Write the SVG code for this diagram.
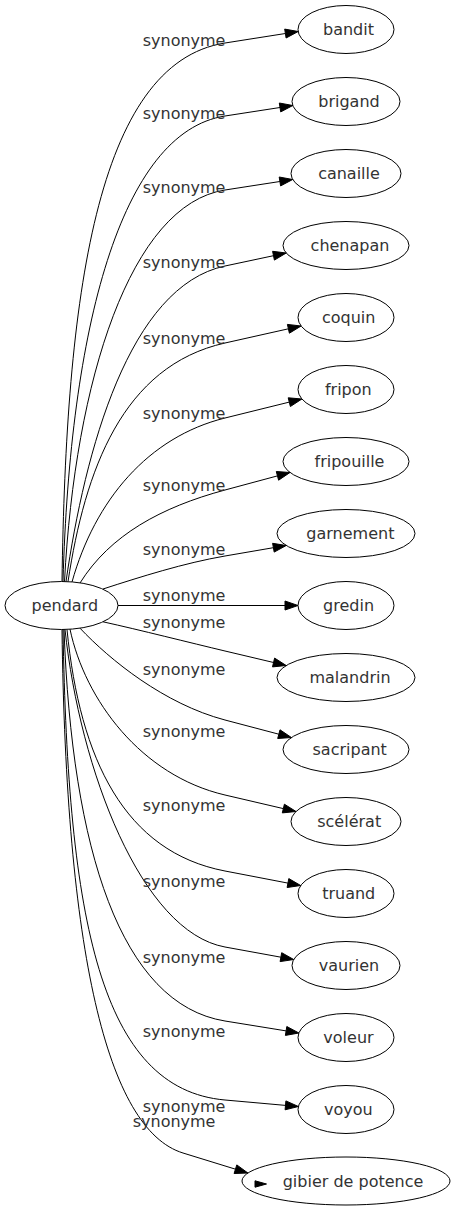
<svg xmlns="http://www.w3.org/2000/svg" width="455" height="1211" viewBox="0 0 455 1211">
<style>
.node ellipse{fill:none;stroke:#000;stroke-width:1}
.node text{font-family:"DejaVu Sans",sans-serif;font-size:16px;fill:#333;text-anchor:middle}
.edge path{fill:none;stroke:#000;stroke-width:1}
.edge polygon{fill:#000;stroke:#000;stroke-width:1}
.edge text{font-family:"DejaVu Sans",sans-serif;font-size:16px;fill:#333}
</style>
<rect width="455" height="1211" fill="#fff"/>
<g id="connectors">
<g class="edge" id="e-bandit"><path d="M62,581.5 C66,300 95.6,63.3 225,43 L285.4,33.5"/><polygon points="298.2,31.5 286.1,38 284.7,29.1"/><text x="142.7" y="46">synonyme</text></g>
<g class="edge" id="e-brigand"><path d="M63,581.5 C70,330 120.3,132.2 225,116 L280,107.5"/><polygon points="292.8,105.5 280.7,111.9 279.3,103"/><text x="142.7" y="119">synonyme</text></g>
<g class="edge" id="e-canaille"><path d="M64.5,581.5 C75,380 130.6,204.6 225,190 L279.9,181.5"/><polygon points="292.7,179.5 280.6,185.9 279.2,177"/><text x="142.7" y="193">synonyme</text></g>
<g class="edge" id="e-chenapan"><path d="M66,581.6 C85,450 129.2,286.4 225,266 L273.5,255.7"/><polygon points="286.2,253 274.4,260.1 272.6,251.3"/><text x="142.7" y="268">synonyme</text></g>
<g class="edge" id="e-coquin"><path d="M68,581.7 C85,470 122.5,365.9 225,343 L288.4,328.8"/><polygon points="301.1,326 289.4,333.2 287.4,324.4"/><text x="142.7" y="344">synonyme</text></g>
<g class="edge" id="e-fripon"><path d="M72,582 C95,500 148.3,437 225,418 L289.3,402.1"/><polygon points="301.9,399 290.4,406.5 288.2,397.8"/><text x="142.7" y="419">synonyme</text></g>
<g class="edge" id="e-fripouille"><path d="M80,583 C110,535 161.2,507.2 225,490 L277.4,475.9"/><polygon points="290,472.5 278.6,480.2 276.3,471.5"/><text x="142.7" y="491">synonyme</text></g>
<g class="edge" id="e-garnement"><path d="M103,589 C140,577 184.6,562.9 225,556 L273.4,547.7"/><polygon points="286.2,545.5 274.2,552.1 272.6,543.3"/><text x="142.7" y="555">synonyme</text></g>
<g class="edge" id="e-gredin"><path d="M118,605.5 L285,605.5"/><polygon points="298,605.5 285,610 285,601"/><text x="142.7" y="601">synonyme</text></g>
<g class="edge" id="e-malandrin"><path d="M103,621.8 C140,630 190,642.7 225,651 L273.6,662.5"/><polygon points="286.2,665.5 272.5,666.9 274.6,658.1"/><text x="142.7" y="628">synonyme</text></g>
<g class="edge" id="e-sacripant"><path d="M80,628.2 C110,660 164.1,703.9 225,720 L278.8,734.2"/><polygon points="291.4,737.5 277.7,738.5 280,729.8"/><text x="142.7" y="675">synonyme</text></g>
<g class="edge" id="e-scelerat"><path d="M70,629.2 C85,700 141.2,775.5 225,795 L283.3,808.6"/><polygon points="296,811.5 282.3,812.9 284.4,804.2"/><text x="142.7" y="737">synonyme</text></g>
<g class="edge" id="e-truand"><path d="M67,629.6 C80,760 124.8,851.8 225,871 L287.9,883.1"/><polygon points="300.7,885.5 287.1,887.5 288.8,878.6"/><text x="142.7" y="811">synonyme</text></g>
<g class="edge" id="e-vaurien"><path d="M65,629.5 C80,770 141.4,931.8 225,947 L280.9,957.2"/><polygon points="293.7,959.5 280.1,961.6 281.7,952.7"/><text x="142.7" y="887">synonyme</text></g>
<g class="edge" id="e-voleur"><path d="M64,629.4 C72,850 120.8,1004.1 225,1021 L286.1,1030.9"/><polygon points="298.9,1033 285.4,1035.4 286.8,1026.5"/><text x="142.7" y="963">synonyme</text></g>
<g class="edge" id="e-voyou"><path d="M63,629.5 C68,920 100.5,1089 225,1100 L285.5,1105.4"/><polygon points="298.4,1106.5 285.1,1109.8 285.9,1100.9"/><text x="142.7" y="1037">synonyme</text></g>
<g class="edge" id="e-gibier"><path d="M62,629.5 C66,950 106.5,1129.4 183,1153 L235.5,1169.2"/><polygon points="247.9,1173 234.1,1173.5 236.8,1164.9"/><text x="142.7" y="1112">synonyme</text></g>
<g class="edge" id="e-gibier-2"><polygon points="266.5,1184 255,1180.8 255,1187.2"/><text x="132.7" y="1127">synonyme</text></g>
</g>
<g id="node-pendard" class="node"><ellipse cx="61.5" cy="605.5" rx="56.5" ry="24"/><text x="64.8" y="611">pendard</text></g>
<g id="node-bandit" class="node"><ellipse cx="346" cy="29.5" rx="48" ry="24"/><text x="348.5" y="35">bandit</text></g>
<g id="node-brigand" class="node"><ellipse cx="346" cy="101.5" rx="54" ry="24"/><text x="349" y="107">brigand</text></g>
<g id="node-canaille" class="node"><ellipse cx="346" cy="173.5" rx="55" ry="24"/><text x="349" y="179">canaille</text></g>
<g id="node-chenapan" class="node"><ellipse cx="346" cy="245.5" rx="63" ry="24"/><text x="350" y="251">chenapan</text></g>
<g id="node-coquin" class="node"><ellipse cx="346" cy="317.5" rx="48" ry="24"/><text x="348.7" y="323">coquin</text></g>
<g id="node-fripon" class="node"><ellipse cx="346" cy="389.5" rx="48" ry="24"/><text x="348.3" y="395">fripon</text></g>
<g id="node-fripouille" class="node"><ellipse cx="346" cy="461.5" rx="63" ry="24"/><text x="349.5" y="467">fripouille</text></g>
<g id="node-garnement" class="node"><ellipse cx="346" cy="533.5" rx="69" ry="24"/><text x="350.4" y="539">garnement</text></g>
<g id="node-gredin" class="node"><ellipse cx="346" cy="605.5" rx="48" ry="24"/><text x="348.6" y="611">gredin</text></g>
<g id="node-malandrin" class="node"><ellipse cx="346" cy="677.5" rx="69" ry="24"/><text x="350" y="683">malandrin</text></g>
<g id="node-sacripant" class="node"><ellipse cx="346" cy="749.5" rx="63" ry="24"/><text x="349.7" y="755">sacripant</text></g>
<g id="node-scelerat" class="node"><ellipse cx="346" cy="821.5" rx="55" ry="24"/><text x="349.2" y="827">scélérat</text></g>
<g id="node-truand" class="node"><ellipse cx="346" cy="893.5" rx="48" ry="24"/><text x="348.7" y="899">truand</text></g>
<g id="node-vaurien" class="node"><ellipse cx="346" cy="965.5" rx="54" ry="24"/><text x="349" y="971">vaurien</text></g>
<g id="node-voleur" class="node"><ellipse cx="346" cy="1037.5" rx="48" ry="24"/><text x="348.5" y="1043">voleur</text></g>
<g id="node-voyou" class="node"><ellipse cx="346" cy="1109.5" rx="48" ry="24"/><text x="348.4" y="1115">voyou</text></g>
<g id="node-gibier" class="node"><ellipse cx="346" cy="1181" rx="104" ry="24"/><text x="353" y="1186.5">gibier de potence</text></g>
</svg>
